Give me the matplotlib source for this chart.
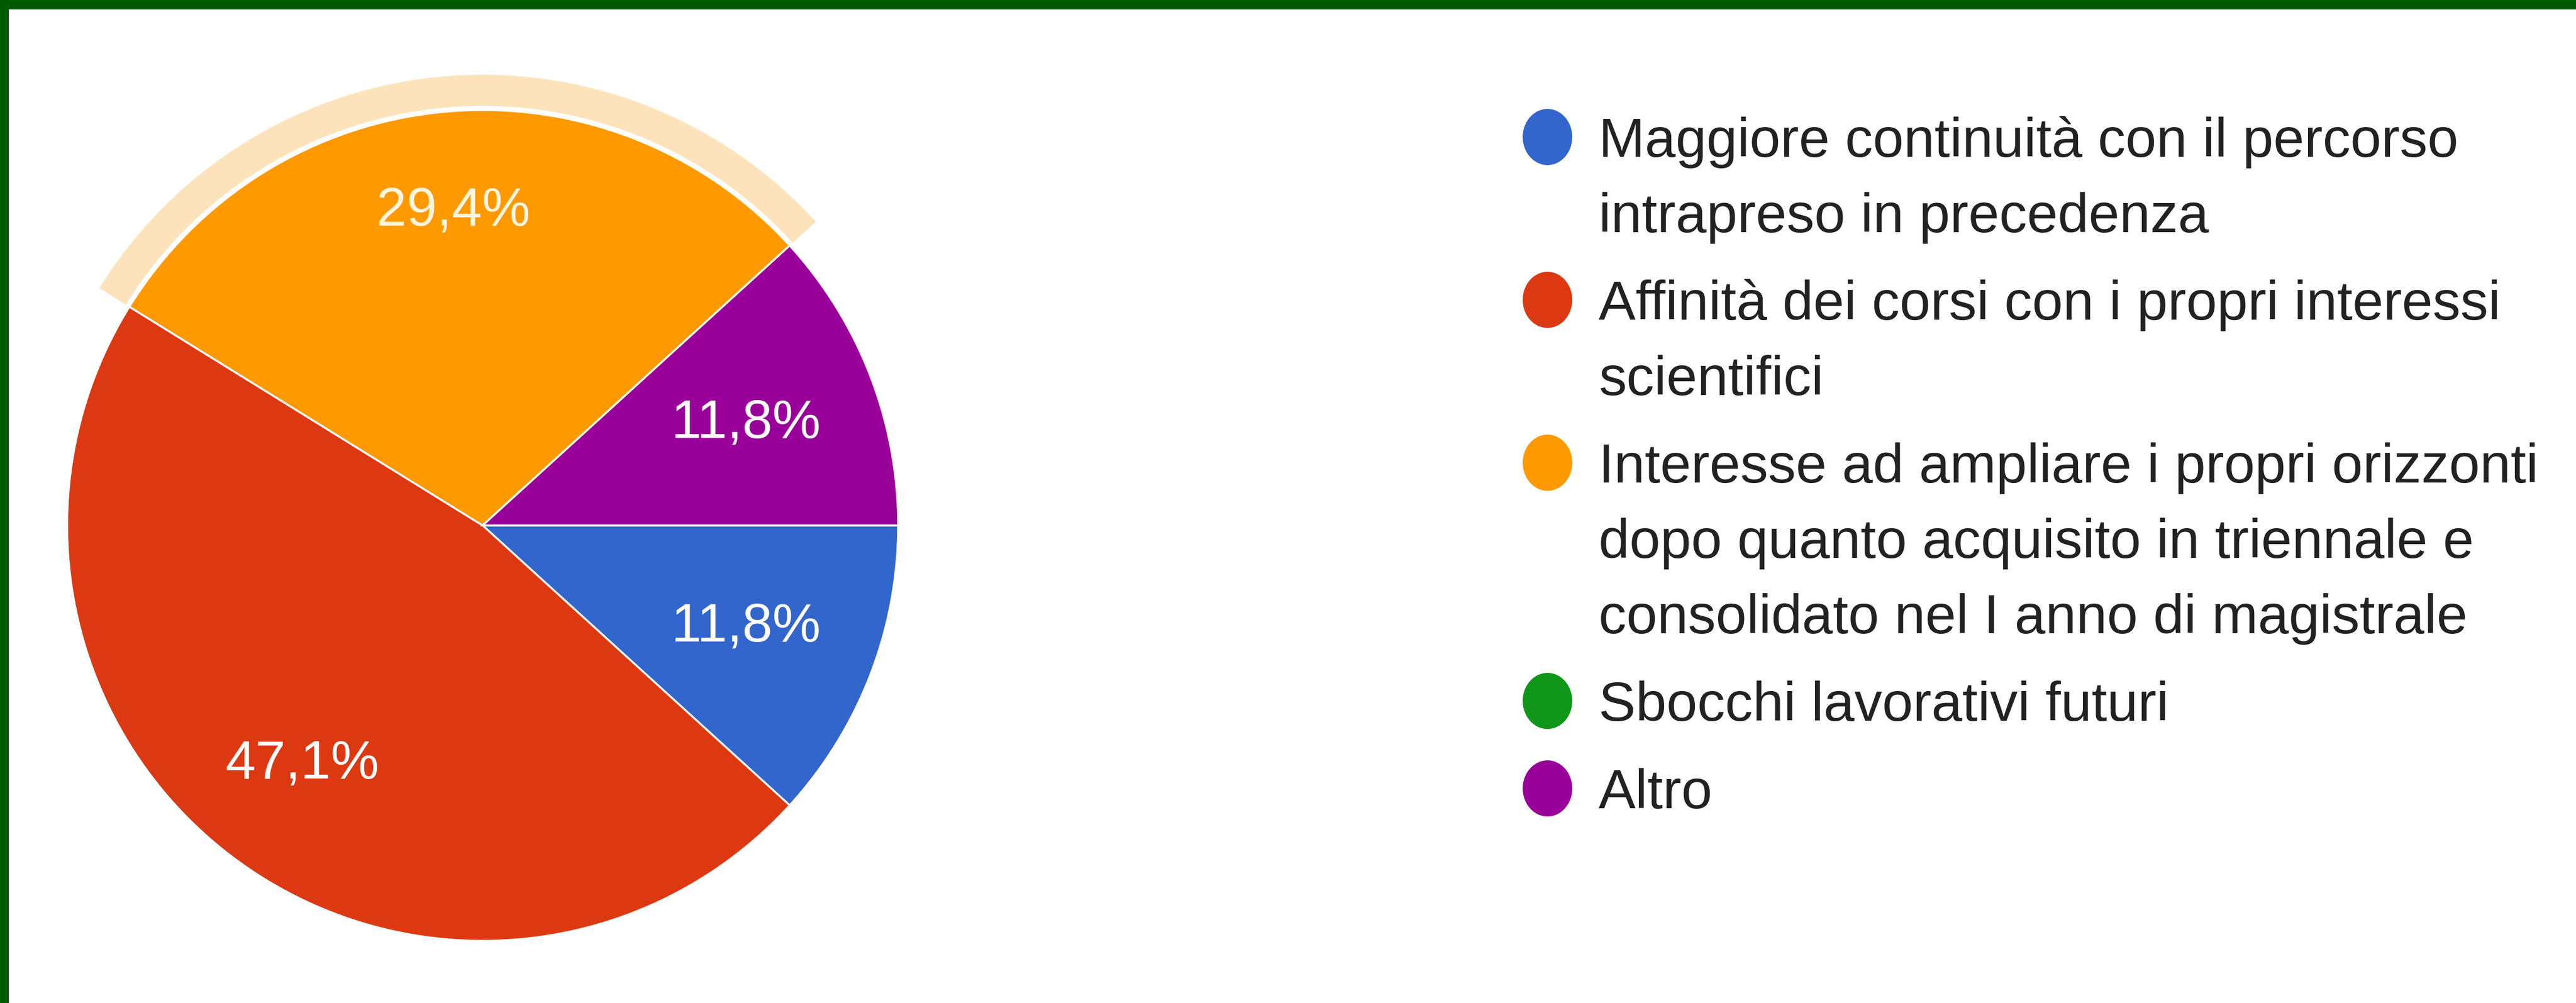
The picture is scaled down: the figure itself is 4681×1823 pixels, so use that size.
import matplotlib
matplotlib.use("Agg")
import matplotlib.pyplot as plt
from matplotlib.patches import Wedge, Ellipse, Rectangle
import numpy as np

plt.rcParams['font.family'] = ['Liberation Sans', 'DejaVu Sans']

# data (responses, 17 in total)
categories = [
    "Maggiore continuità con il percorso\nintrapreso in precedenza",
    "Affinità dei corsi con i propri interessi\nscientifici",
    "Interesse ad ampliare i propri orizzonti\ndopo quanto acquisito in triennale e\nconsolidato nel I anno di magistrale",
    "Sbocchi lavorativi futuri",
    "Altro",
]
counts = [2, 8, 5, 0, 2]
colors = ['#3366cc', '#dc3912', '#ff9900', '#109618', '#990099']
label_colors = ['white', 'white', '#fff4dc', 'white', 'white']
label_dist = [0.68, 0.72, 0.76, 0.7, 0.68]
highlighted = 2  # orange slice shown as hovered

W, H = 4681, 1823
fig = plt.figure(figsize=(W / 100, H / 100), dpi=100)
fig.patch.set_facecolor('white')

# pie axes: center at (877, 955) px from top-left, radius 755 px
cx, cy, r_px = 877, 955, 755
lim = 1.2
size = r_px * 2 * lim
ax = fig.add_axes([(cx - size / 2) / W, (H - cy - size / 2) / H, size / W, size / H])
wedges, _ = ax.pie(counts, colors=colors, startangle=0, counterclock=False,
                   radius=1.0, wedgeprops=dict(edgecolor='white', linewidth=2.5))
ax.set_xlim(-lim, lim)
ax.set_ylim(-lim, lim)
ax.set_aspect('equal')
ax.axis('off')

total = sum(counts)
for w, c, d, lc in zip(wedges, counts, label_dist, label_colors):
    if c == 0:
        continue
    mid = np.deg2rad((w.theta1 + w.theta2) / 2)
    pct = f"{100 * c / total:.1f}%".replace('.', ',')
    ax.text(d * np.cos(mid), d * np.sin(mid), pct, color=lc, fontsize=71,
            ha='center', va='center')

# hover ring around the highlighted slice
hw = wedges[highlighted]
ax.add_patch(Wedge((0, 0), 1.085, hw.theta1, hw.theta2, width=0.075,
                   facecolor='#fde3bc', edgecolor='none', zorder=0))

# legend drawn in pixel coordinates
lax = fig.add_axes([0, 0, 1, 1])
lax.set_xlim(0, W)
lax.set_ylim(H, 0)
lax.axis('off')
lax.patch.set_alpha(0)

text_x = 2905
dot_x = 2812
baseline = 285
line_gap = 137
entry_gap = 159
for label, col in zip(categories, colors):
    lines = label.split('\n')
    lax.add_patch(Ellipse((dot_x, baseline - 36), 90, 102, facecolor=col, edgecolor='none'))
    for i, line in enumerate(lines):
        lax.text(text_x, baseline, line, fontsize=72.5, color='#222222',
                 ha='left', va='baseline')
        if i < len(lines) - 1:
            baseline += line_gap
    baseline += entry_gap

# green frame on top and left
fig.patches.append(Rectangle((0, 1 - 17 / H), 1, 17 / H, transform=fig.transFigure,
                             facecolor='#005a00', edgecolor='none', zorder=5))
fig.patches.append(Rectangle((0, 0), 16 / W, 1, transform=fig.transFigure,
                             facecolor='#005a00', edgecolor='none', zorder=5))

fig.savefig('out.png', dpi=100)
